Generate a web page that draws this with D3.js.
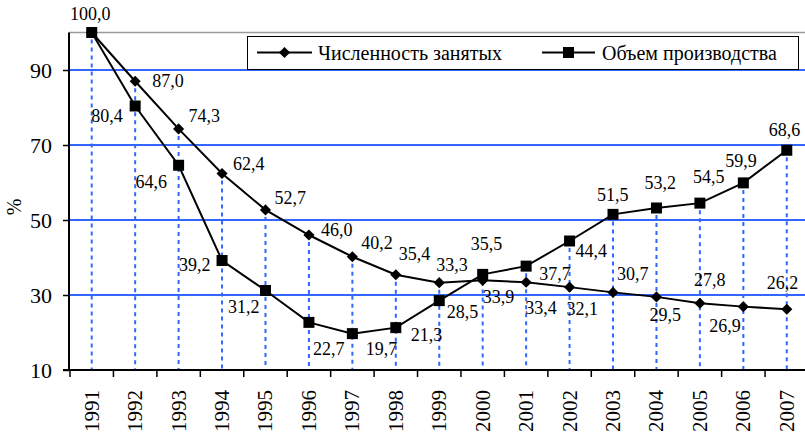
<!DOCTYPE html>
<html>
<head>
<meta charset="utf-8">
<script src="https://d3js.org/d3.v7.min.js"></script>
</head>
<body style="margin:0">
<script>
// data
var years = ["1991","1992","1993","1994","1995","1996","1997","1998","1999",
             "2000","2001","2002","2003","2004","2005","2006","2007"];
var employment = [100.0, 87.0, 74.3, 62.4, 52.7, 46.0, 40.2, 35.4, 33.3,
                  33.9, 33.4, 32.1, 30.7, 29.5, 27.8, 26.9, 26.2];
var production = [100.0, 80.4, 64.6, 39.2, 31.2, 22.7, 19.7, 21.3, 28.5,
                  35.5, 37.7, 44.4, 51.5, 53.2, 54.5, 59.9, 68.6];
var yTicks = [10, 30, 50, 70, 90];
var seriesNames = ["Численность занятых", "Объем производства"];

// label placement (dx, dy from the point to text start / baseline)
var empLabelPos = [[-21.7,-12.5],[17,6],[10,-7],[11,-4],[9,-6],[12,1],[9,-8],[3,-15],[-3,-12],
                   [0,23],[-1,32],[-3,28],[4,-12],[-7,24],[-6,-17],[-34,25],[-20,-20]];
var prodLabelPos = [null,[-44,16],[-43,23],[-43,10],[-37.5,22],[4,33],[13.5,21],[15,13],[7.5,17],
                    [-12,-24],[13,14],[6,16],[-16,-13],[-12,-19],[-7,-20],[-18,-16],[-18,-14]];

var W = 805, H = 433;
var plotLeft = 69, plotTop = 32.5, plotBottom = 370;
var blue = "#3366ff";
var serif = "Liberation Serif";

var svg = d3.select("body").append("svg")
  .attr("width", W).attr("height", H)
  .attr("font-family", serif)
  .style("display", "block");

svg.append("style").text("text { font-family: 'Liberation Serif'; }");

// put the serif face on a text node every possible way
function face(sel, size) {
  return sel.attr("font-family", serif)
    .attr("font-size", size)
    .style("font-family", "'Liberation Serif'")
    .style("font-size", size + "px");
}

var x = d3.scaleBand().domain(years).range([70, 808.5]);
var y = d3.scaleLinear().domain([10, 100]).range([plotBottom, plotTop]);
var cx = function (d) { return x(d) + x.bandwidth() / 2; };

var fmt = d3.formatLocale({decimal: ",", thousands: " ", grouping: [3], currency: ["", ""]}).format(".1f");

// plot top border
svg.append("line")
  .attr("x1", plotLeft).attr("x2", W).attr("y1", plotTop).attr("y2", plotTop)
  .attr("stroke", "#9a9a9a").attr("stroke-width", 1.5);

// gridlines
svg.append("g").selectAll("line")
  .data(yTicks.filter(function (t) { return t > 10; }))
  .join("line")
  .attr("x1", plotLeft).attr("x2", W)
  .attr("y1", function (d) { return y(d); }).attr("y2", function (d) { return y(d); })
  .attr("stroke", blue).attr("stroke-width", 2);

// drop lines
svg.append("g").selectAll("line")
  .data(years)
  .join("line")
  .attr("x1", cx).attr("x2", cx)
  .attr("y1", function (d, i) { return y(Math.max(employment[i], production[i])) + 7; })
  .attr("y2", plotBottom)
  .attr("stroke", blue).attr("stroke-width", 2)
  .attr("stroke-dasharray", "4,4");

// axes
var yAxis = svg.append("g")
  .attr("transform", "translate(" + plotLeft + ",0)")
  .call(d3.axisLeft(y).tickValues(yTicks).tickSize(6).tickPadding(11).tickFormat(d3.format("d")));
yAxis.attr("font-family", serif).attr("font-size", 22);
yAxis.select(".domain").attr("d", "M0," + plotTop + "V" + plotBottom).attr("stroke", "#000").attr("stroke-width", 2);
yAxis.selectAll(".tick line").attr("stroke-width", 1.5);
face(yAxis.selectAll("text"), 22).attr("fill", "#000");

var xAxis = svg.append("g")
  .attr("transform", "translate(0," + plotBottom + ")");
xAxis.append("line")
  .attr("x1", plotLeft - 6).attr("x2", W).attr("y1", 0).attr("y2", 0)
  .attr("stroke", "#000").attr("stroke-width", 2);
xAxis.selectAll(".tk")
  .data(years)
  .join("line")
  .attr("x1", function (d) { return x(d); }).attr("x2", function (d) { return x(d); })
  .attr("y1", 0).attr("y2", 7)
  .attr("stroke", "#000").attr("stroke-width", 1.5);
face(xAxis.selectAll("text")
  .data(years)
  .join("text")
  .attr("transform", function (d) { return "translate(" + (cx(d) + 7) + ",20) rotate(-90)"; })
  .attr("text-anchor", "end")
  .text(function (d) { return d; }), 21);

// y title
face(svg.append("text")
  .attr("transform", "translate(21,207) rotate(-90)")
  .attr("text-anchor", "middle")
  .text("%"), 20);

// lines
var line = d3.line()
  .x(function (d, i) { return cx(years[i]); })
  .y(function (d) { return y(d); });

[employment, production].forEach(function (s) {
  svg.append("path")
    .datum(s)
    .attr("d", line)
    .attr("fill", "none")
    .attr("stroke", "#000")
    .attr("stroke-width", 2);
});

// markers
var diamond = d3.symbol().type(d3.symbolSquare).size(62);
svg.append("g").selectAll("path")
  .data(employment)
  .join("path")
  .attr("d", diamond)
  .attr("transform", function (d, i) { return "translate(" + cx(years[i]) + "," + y(d) + ") rotate(45)"; })
  .attr("fill", "#000");

var sq = 11;
svg.append("g").selectAll("rect")
  .data(production)
  .join("rect")
  .attr("x", function (d, i) { return cx(years[i]) - sq / 2; })
  .attr("y", function (d) { return y(d) - sq / 2; })
  .attr("width", sq).attr("height", sq)
  .attr("fill", "#000");

// data labels
function labels(s, pos) {
  var pts = s.map(function (v, i) { return {v: v, i: i}; })
    .filter(function (p) { return pos[p.i] != null; });
  face(svg.append("g").selectAll("text")
    .data(pts)
    .join("text")
    .attr("x", function (p) { return cx(years[p.i]) + pos[p.i][0]; })
    .attr("y", function (p) { return y(p.v) + pos[p.i][1]; })
    .attr("fill", "#000")
    .text(function (p) { return fmt(p.v); }), 18);
}
labels(employment, empLabelPos);
labels(production, prodLabelPos);

// legend
var lg = svg.append("g");
lg.append("rect")
  .attr("x", 247.5).attr("y", 36.5).attr("width", 551).attr("height", 33)
  .attr("fill", "#fff").attr("stroke", "#000").attr("stroke-width", 1);

var legendItems = [
  {x0: 257, x1: 312, tx: 318, marker: "diamond", name: seriesNames[0]},
  {x0: 542, x1: 595, tx: 602, marker: "square", name: seriesNames[1]}
];
legendItems.forEach(function (it) {
  var ly = 52.5;
  lg.append("line")
    .attr("x1", it.x0).attr("x2", it.x1).attr("y1", ly).attr("y2", ly)
    .attr("stroke", "#000").attr("stroke-width", 2);
  var mx = (it.x0 + it.x1) / 2;
  if (it.marker === "diamond") {
    lg.append("path").attr("d", diamond)
      .attr("transform", "translate(" + mx + "," + ly + ") rotate(45)")
      .attr("fill", "#000");
  } else {
    lg.append("rect")
      .attr("x", mx - sq / 2).attr("y", ly - sq / 2)
      .attr("width", sq).attr("height", sq).attr("fill", "#000");
  }
  face(lg.append("text")
    .attr("x", it.tx).attr("y", ly + 7)
    .text(it.name), 20);
});
</script>
</body>
</html>
